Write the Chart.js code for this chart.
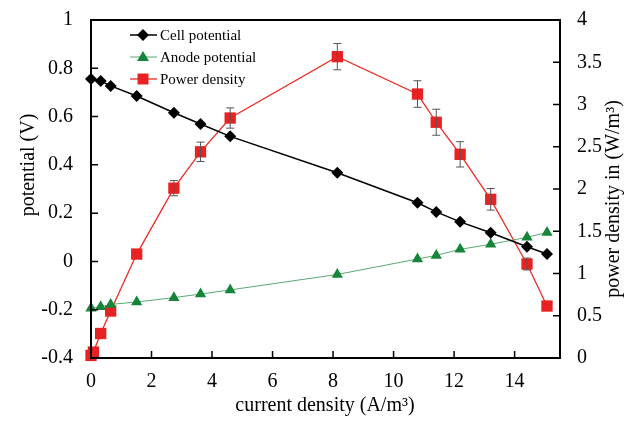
<!DOCTYPE html>
<html>
<head>
<meta charset="utf-8">
<script src="https://cdn.jsdelivr.net/npm/chart.js@4/dist/chart.umd.min.js"></script>
<style>
  html, body { margin: 0; padding: 0; background: #fff; }
  #wrap { width: 637px; height: 429px; }
</style>
</head>
<body>
<div id="wrap"><canvas id="chart"></canvas></div>
<script>
// current density (A/m3)
const currentDensity = [0, 0.32, 0.65, 1.51, 2.74, 3.62, 4.6, 8.14, 10.79, 11.41, 12.2, 13.21, 14.41, 15.07];
const cellPotential = [0.756, 0.747, 0.727, 0.685, 0.616, 0.569, 0.518, 0.367, 0.243, 0.205, 0.164, 0.119, 0.061, 0.031];
const anodePotential = [-0.194, -0.188, -0.178, -0.168, -0.150, -0.135, -0.118, -0.054, 0.010, 0.025, 0.050, 0.071, 0.100, 0.120];

const powerCurrent = [0, 0.08, 0.32, 0.65, 1.51, 2.74, 3.62, 4.6, 8.14, 10.79, 11.41, 12.2, 13.21, 14.41, 15.07];
const powerDensity = [0.03, 0.07, 0.29, 0.556, 1.23, 2.01, 2.44, 2.84, 3.566, 3.124, 2.79, 2.41, 1.878, 1.112, 0.615];
const powerError = [0, 0, 0, 0, 0, 0.09, 0.115, 0.12, 0.155, 0.157, 0.154, 0.15, 0.128, 0.07, 0];

const xTicks = [0, 2, 4, 6, 8, 10, 12, 14];

const seriesNames = ['Cell potential', 'Anode potential', 'Power density'];
const xTitle = 'current density (A/m\u00B3)';
const yTitle = 'potential (V)';
const y1Title = 'power density in (W/m\u00B3)';

const FONT = '"Liberation Serif", "Times New Roman", serif';

const pts = (xs, ys) => xs.map((x, i) => ({ x: x, y: ys[i] }));
const fmt = v => {
    const r = Math.round(v * 10) / 10;
    return String(r === 0 ? 0 : r);
};
const noPad = s => { s.paddingTop = 0; s.paddingBottom = 0; s.paddingLeft = 0; s.paddingRight = 0; };

// error bars, inward ticks, frame, titles and legend
const decor = {
    id: 'decor',
    afterDatasetsDraw(chart) {
        const ctx = chart.ctx;
        const a = chart.chartArea;
        const xs = chart.scales.x, ys = chart.scales.y, y1 = chart.scales.y1;
        ctx.save();

        // error bars for power density
        ctx.strokeStyle = '#555';
        ctx.lineWidth = 1;
        powerCurrent.forEach((x, i) => {
            const e = powerError[i];
            if (!e) return;
            const px = xs.getPixelForValue(x);
            const top = y1.getPixelForValue(powerDensity[i] + e);
            const bot = y1.getPixelForValue(powerDensity[i] - e);
            ctx.beginPath();
            ctx.moveTo(px, top); ctx.lineTo(px, bot);
            ctx.moveTo(px - 4, top); ctx.lineTo(px + 4, top);
            ctx.moveTo(px - 4, bot); ctx.lineTo(px + 4, bot);
            ctx.stroke();
        });

        // frame
        ctx.strokeStyle = '#000';
        ctx.lineWidth = 2;
        ctx.strokeRect(a.left, a.top, a.right - a.left, a.bottom - a.top);

        // inward tick marks
        ctx.lineWidth = 1.5;
        ctx.beginPath();
        xs.ticks.forEach(t => {
            const p = xs.getPixelForValue(t.value);
            ctx.moveTo(p, a.bottom); ctx.lineTo(p, a.bottom - 7);
        });
        ys.ticks.forEach(t => {
            const p = ys.getPixelForValue(t.value);
            ctx.moveTo(a.left, p); ctx.lineTo(a.left + 7, p);
        });
        y1.ticks.forEach(t => {
            const p = y1.getPixelForValue(t.value);
            ctx.moveTo(a.right, p); ctx.lineTo(a.right - 7, p);
        });
        ctx.stroke();

        // axis titles
        ctx.fillStyle = '#000';
        ctx.font = '20px ' + FONT;
        ctx.textAlign = 'center';
        ctx.textBaseline = 'middle';
        ctx.fillText(xTitle, 325, 406);
        ctx.save();
        ctx.translate(29, 165);
        ctx.rotate(-Math.PI / 2);
        ctx.fillText(yTitle, 0, 0);
        ctx.restore();
        ctx.save();
        ctx.translate(614, 199);
        ctx.rotate(-Math.PI / 2);
        ctx.fillText(y1Title, 0, 0);
        ctx.restore();

        // legend
        ctx.font = '15px ' + FONT;
        ctx.textAlign = 'left';
        const rows = [35, 57, 79];
        chart.data.datasets.forEach((ds, i) => {
            const y = rows[i];
            ctx.strokeStyle = ds.borderColor;
            ctx.lineWidth = ds.borderWidth;
            ctx.beginPath();
            ctx.moveTo(130, y); ctx.lineTo(157, y);
            ctx.stroke();
            ctx.fillStyle = ds.pointBackgroundColor;
            ctx.beginPath();
            if (ds.pointStyle === 'rectRot') {
                ctx.moveTo(143, y - 6); ctx.lineTo(149, y); ctx.lineTo(143, y + 6); ctx.lineTo(137, y);
            } else if (ds.pointStyle === 'triangle') {
                ctx.moveTo(143, y - 6); ctx.lineTo(149, y + 4); ctx.lineTo(137, y + 4);
            } else {
                ctx.rect(137.5, y - 5.5, 11, 11);
            }
            ctx.closePath();
            ctx.fill();
            ctx.fillStyle = '#000';
            ctx.fillText(ds.label, 160, y + 1);
        });

        ctx.restore();
    }
};

new Chart(
    document.getElementById('chart'),
    {
        type: 'scatter',
        plugins: [decor],
        options: {
            responsive: true,
            maintainAspectRatio: false,
            animation: false,
            layout: {
                padding: { top: 20, left: 0, right: 0, bottom: 0 }
            },
            plugins: {
                legend: { display: false },
                tooltip: { enabled: false }
            },
            scales: {
                x: {
                    type: 'linear',
                    min: 0,
                    max: 15.5,
                    afterBuildTicks: s => { s.ticks = xTicks.map(v => ({ value: v })); },
                    afterFit: s => { s.height = 71; noPad(s); },
                    grid: { display: false, drawTicks: false },
                    border: { display: false },
                    ticks: {
                        autoSkip: false,
                        maxRotation: 0,
                        padding: 12,
                        color: '#000',
                        callback: v => fmt(v),
                        font: { family: FONT, size: 20 }
                    }
                },
                y: {
                    position: 'left',
                    min: -0.4,
                    max: 1,
                    afterFit: s => { s.width = 91; noPad(s); },
                    grid: { display: false, drawTicks: false },
                    border: { display: false },
                    ticks: {
                        stepSize: 0.2,
                        padding: 18,
                        color: '#000',
                        callback: v => fmt(v),
                        font: { family: FONT, size: 20 }
                    }
                },
                y1: {
                    position: 'right',
                    min: 0,
                    max: 4,
                    afterFit: s => { s.width = 77; noPad(s); },
                    grid: { display: false, drawTicks: false },
                    border: { display: false },
                    ticks: {
                        stepSize: 0.5,
                        padding: 17,
                        color: '#000',
                        callback: v => fmt(v),
                        font: { family: FONT, size: 20 }
                    }
                }
            }
        },
        data: {
            datasets: [
                {
                    label: seriesNames[0],
                    data: pts(currentDensity, cellPotential),
                    yAxisID: 'y',
                    showLine: true,
                    clip: false,
                    borderColor: '#000',
                    borderWidth: 1.5,
                    pointStyle: 'rectRot',
                    pointRadius: 6,
                    pointBackgroundColor: '#000',
                    pointBorderColor: '#000',
                    pointBorderWidth: 0
                },
                {
                    label: seriesNames[1],
                    data: pts(currentDensity, anodePotential),
                    yAxisID: 'y',
                    showLine: true,
                    clip: false,
                    borderColor: '#5aa874',
                    borderWidth: 1,
                    pointStyle: 'triangle',
                    pointRadius: 6.5,
                    pointBackgroundColor: '#16853a',
                    pointBorderColor: '#16853a',
                    pointBorderWidth: 0
                },
                {
                    label: seriesNames[2],
                    data: pts(powerCurrent, powerDensity),
                    yAxisID: 'y1',
                    showLine: true,
                    clip: false,
                    borderColor: '#ee2a24',
                    borderWidth: 1.3,
                    pointStyle: 'rect',
                    pointRadius: 8,
                    pointBackgroundColor: '#e82222',
                    pointBorderColor: '#e82222',
                    pointBorderWidth: 0
                }
            ]
        }
    }
);
</script>
</body>
</html>
